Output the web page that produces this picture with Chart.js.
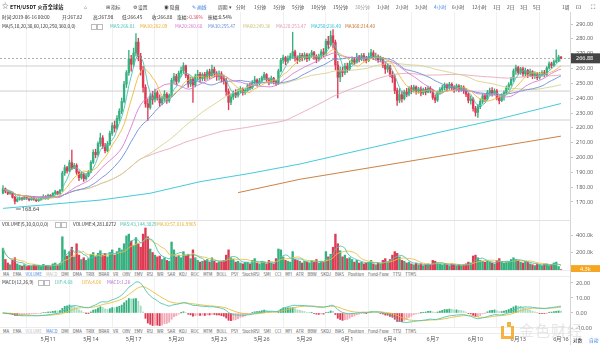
<!DOCTYPE html>
<html lang="zh-CN">
<head>
<meta charset="utf-8">
<title>ETH/USDT 4小时</title>
<script src="https://cdn.jsdelivr.net/npm/chart.js@4.4.1/dist/chart.umd.min.js"></script>
<style>
  body { margin: 0; background: #fff; }
  #page {
    position: relative; width: 600px; height: 345px; overflow: hidden; background: #fff;
    font-family: "Noto Sans CJK SC", "Noto Sans", sans-serif; color: #333;
  }
  canvas { position: absolute; left: 0; }
  .t { position: absolute; white-space: nowrap; font-size: 4.7px; line-height: 5px; }
  .tool { top: 3.5px; font-size: 4.8px; color: #444; }
  .info { top: 14.5px; }
  .ma { top: 23.5px; }
  .blue { color: #3d7fe0; }
  .box { position: absolute; width: 4px; height: 4px; border: 0.6px solid #bbb; }
  .tabs {
    position: absolute; left: 0; width: 570px; height: 7px; background: #fff;
    border-top: 1px solid #ececec; border-bottom: 1px solid #ececec;
    display: flex; align-items: center; gap: 4px; padding-left: 3px; box-sizing: border-box;
    font-size: 4.2px; color: #555; white-space: nowrap;
  }
  .tabs .on { color: #3d7fe0; }
  .tabs .off { color: #bbb; }
  #axisLine { position: absolute; left: 570px; top: 12px; width: 1px; height: 333px; background: #d6d6d6; }
  #sep1 { position: absolute; left: 0; top: 220px; width: 570px; height: 1px; background: #e2e2e2; }
  .wm-logo { position: absolute; left: 501px; top: 326px; width: 7px; height: 10px; border: 3px solid #f5a623; border-top: none; opacity: 0.85; }
  .wm-dot { position: absolute; left: 507px; top: 322px; width: 4px; height: 5px; background: #f5a623; opacity: 0.85; }
  .wm-text { position: absolute; left: 519px; top: 322px; font-size: 15px; line-height: 16px; color: rgba(210,210,210,0.55); letter-spacing: 1px; }
</style>
</head>
<body>
<div id="page">
  <canvas id="priceChart" width="600" height="208" style="top:12px"></canvas>
  <canvas id="volumeChart" width="600" height="51" style="top:221px"></canvas>
  <canvas id="macdChart" width="600" height="67" style="top:278px"></canvas>

  <div id="sep1"></div>
  <div id="axisLine"></div>

  <!-- toolbar -->
  <span class="t tool" style="left:2px;top:2.5px;font-size:6.5px">☆</span>
  <span class="t tool" style="left:10px;color:#222;font-weight:600;font-size:5.2px">ETH/USDT 火币全球站</span>
  <span class="t tool" style="left:84px">⌂</span>
  <span class="t tool" style="left:106px">⊞ 指标</span>
  <span class="t tool" style="left:133px">⚙ 设置</span>
  <span class="t tool" style="left:164px">◉ 隐藏</span>
  <span class="t tool blue" style="left:192px">✎ 画线</span>
  <span class="t tool" style="left:218px">周期 ▾</span>
  <span class="t tool" style="left:236px">分时</span>
  <span class="t tool" style="left:254px">1分钟</span>
  <span class="t tool" style="left:273px">3分钟</span>
  <span class="t tool" style="left:292px">5分钟</span>
  <span class="t tool" style="left:311px">10分钟</span>
  <span class="t tool" style="left:333px">15分钟</span>
  <span class="t tool" style="left:355px;color:#999">30分钟</span>
  <span class="t tool" style="left:377px">1小时</span>
  <span class="t tool" style="left:396px">2小时</span>
  <span class="t tool" style="left:415px">3小时</span>
  <span class="t tool blue" style="left:434px">4小时</span>
  <span class="t tool" style="left:452px">6小时</span>
  <span class="t tool" style="left:472px">12小时</span>
  <span class="t tool" style="left:493px">1日</span>
  <span class="t tool" style="left:507px">2日</span>
  <span class="t tool" style="left:520px">3日</span>
  <span class="t tool" style="left:533px">5日</span>
  <span class="t tool" style="left:562px">1周</span>
  <span class="t tool" style="left:576px;font-size:6px">⊡</span>
  <span class="t tool" style="left:591px;font-size:6px">⛶</span>

  <!-- candle info -->
  <span class="t info" style="left:2px">时间:2019-06-16 00:00</span>
  <span class="t info" style="left:62px">开:267.82</span>
  <span class="t info" style="left:93px">高:267.98</span>
  <span class="t info" style="left:122px">低:266.45</span>
  <span class="t info" style="left:152px">收:266.88</span>
  <span class="t info" style="left:177px">涨幅:<span style="color:#de3f55">-0.36%</span></span>
  <span class="t info" style="left:208px">振幅:0.54%</span>

  <span class="t ma" style="left:2px">MA(5,10,20,30,60,120,250,360,0,0)</span>
  <span class="box" style="left:91px;top:23.5px"></span>
  <span class="box" style="left:97px;top:23.5px"></span>
  <span class="t ma" style="left:110px;color:#4fc3b3">MA5:266.81</span>
  <span class="t ma" style="left:140px;color:#e9b033">MA10:262.09</span>
  <span class="t ma" style="left:175px;color:#d97bd6">MA20:260.60</span>
  <span class="t ma" style="left:208px;color:#6b8fda">MA30:255.47</span>
  <span class="t ma" style="left:243px;color:#c9c57a">MA60:249.36</span>
  <span class="t ma" style="left:276px;color:#e39aae">MA120:253.47</span>
  <span class="t ma" style="left:311px;color:#2fc4d8">MA250:236.40</span>
  <span class="t ma" style="left:345px;color:#c8732c">MA360:214.40</span>

  <!-- volume header -->
  <span class="t" style="left:2px;top:221.5px">VOLUME(5,10,0,0,0,0)</span>
  <span class="box" style="left:55px;top:221.5px"></span>
  <span class="box" style="left:61px;top:221.5px"></span>
  <span class="t" style="left:73px;top:221.5px">VOLUME:4,281.0272</span>
  <span class="t" style="left:120px;top:221.5px;color:#4fc3b3">MA5:43,144.3829</span>
  <span class="t" style="left:157px;top:221.5px;color:#e9b033">MA10:57,016.9965</span>

  <div class="tabs" id="tabsVolume" style="top:270px"></div>

  <!-- macd header -->
  <span class="t" style="left:2px;top:279.5px">MACD(12,26,9)</span>
  <span class="box" style="left:38px;top:279.5px"></span>
  <span class="box" style="left:44px;top:279.5px"></span>
  <span class="t" style="left:55px;top:279.5px;color:#4fc3b3">DIF:4.68</span>
  <span class="t" style="left:82px;top:279.5px;color:#e9b033">DEA:4.06</span>
  <span class="t" style="left:107px;top:279.5px;color:#b26fd2">MACD:1.26</span>

  <div class="tabs" id="tabsMacd" style="top:327px"></div>

  <span class="t" style="left:573px;top:337.5px;color:#222">对数</span>
  <span class="t blue" style="left:589px;top:337.5px">自动</span>

  <div class="wm-logo"></div>
  <div class="wm-dot"></div>
  <div class="wm-text">金色财经</div>
</div>

<script>
// 4h candles, 2019-05-07 20:00 .. 2019-06-16 00:00 (open of each bar = previous close)
const firstOpen = 176.0;

const closes = [
  179.0,
  177.5, 175.8, 176.4, 173.2, 170.5, 171.8,
  172.6, 171.9, 173.1, 172.4, 171.5, 172.8,
  171.8, 170.9, 171.5, 172.6, 173.8, 172.4,
  174.5, 173.6, 175.8, 176.9, 175.6, 177.8,
  189.5, 193.2, 191.0, 196.5, 192.8, 194.6,
  190.0, 186.4, 188.9, 185.7, 187.6, 190.3,
  196.8, 203.5, 201.9, 209.4, 213.2, 207.8,
  204.6, 209.1, 216.3, 221.5, 219.8, 226.4,
  231.2, 237.8, 249.5, 257.2, 266.3, 262.9,
  270.5, 277.8, 268.1, 259.4, 247.3, 236.2,
  233.8, 241.5, 238.9, 243.7, 240.2, 236.8,
  239.6, 242.7, 238.3, 241.8, 252.1, 254.6,
  251.3, 256.9, 258.7, 261.8, 255.4, 249.6,
  252.7, 248.9, 254.8, 256.1, 253.2, 255.9,
  253.7, 257.8, 255.2, 259.4, 256.8, 254.6,
  256.4, 253.1, 251.8, 244.5, 237.2, 240.8,
  243.6, 241.9, 244.8, 246.3, 243.7, 245.2,
  248.4, 247.1, 250.6, 252.3, 249.8, 251.6,
  253.8, 255.9, 252.4, 250.9, 253.5, 251.2,
  249.8, 258.4, 265.6, 267.3, 264.9, 266.8,
  268.4, 271.3, 267.2, 265.8, 268.9, 267.5,
  269.2, 266.6, 268.7, 270.8, 267.9, 266.4,
  268.3, 271.2, 269.6, 278.4, 276.2, 282.1,
  277.6, 262.4, 254.1, 258.9, 257.3, 261.6,
  259.8, 263.5, 265.9, 264.2, 267.8, 266.3,
  268.7, 266.9, 265.4, 268.2, 270.6, 267.4,
  268.1, 265.9, 266.7, 262.3, 259.6, 261.8,
  256.1, 253.8, 245.2, 238.6, 242.3, 239.7,
  244.1, 242.6, 246.9, 245.3, 247.6, 244.8,
  246.2, 243.5, 245.8, 244.1, 246.7, 245.0,
  240.4, 238.7, 243.9, 245.7, 247.1, 248.9,
  246.8, 249.4, 247.2, 245.6, 248.3, 246.1,
  247.5, 245.2, 242.6, 238.5, 239.4, 233.1,
  230.4, 234.2, 237.8, 241.6, 239.4, 243.7,
  245.2, 243.6, 244.8, 240.1, 238.3, 241.5,
  243.8, 246.9, 249.2, 252.7, 258.4, 260.6,
  257.3, 259.8, 256.4, 258.7, 255.6, 257.9,
  254.8, 256.3, 253.9, 255.7, 257.2, 256.0,
  260.4, 263.2, 262.1, 264.6, 265.3, 267.82,
  266.88
];

const highs = [
  181.0,
  179.5, 178.2, 177.6, 176.8, 173.9, 172.9,
  173.5, 173.2, 173.9, 173.6, 172.8, 173.4,
  173.2, 172.3, 172.4, 173.5, 174.9, 174.3,
  175.3, 175.0, 176.4, 177.8, 177.3, 178.6,
  190.8, 194.9, 194.0, 198.2, 205.0, 196.0,
  195.8, 191.0, 190.2, 189.6, 189.3, 191.2,
  197.9, 205.2, 205.6, 210.5, 216.4, 214.8,
  209.5, 210.8, 217.8, 223.4, 224.6, 228.2,
  232.9, 240.1, 251.3, 258.6, 272.2, 268.9,
  273.8, 283.6, 280.4, 270.2, 261.5, 249.1,
  239.5, 243.1, 244.6, 246.2, 245.0, 242.3,
  241.2, 245.1, 243.8, 243.0, 253.4, 256.8,
  256.2, 258.3, 260.9, 263.9, 262.4, 256.0,
  254.3, 254.0, 256.2, 258.8, 257.4, 257.1,
  257.5, 259.2, 259.6, 262.3, 260.9, 258.0,
  258.4, 257.9, 255.6, 253.4, 246.3, 243.0,
  244.9, 245.8, 246.2, 247.8, 247.0, 246.8,
  249.6, 250.2, 251.9, 254.7, 253.1, 253.4,
  254.9, 257.4, 256.6, 253.8, 254.9, 254.1,
  252.2, 259.6, 266.9, 269.0, 268.2, 268.5,
  270.2, 284.5, 272.4, 268.6, 270.5, 270.2,
  270.7, 270.3, 270.1, 272.3, 271.6, 269.3,
  269.7, 272.8, 273.5, 279.9, 281.7, 285.3,
  286.2, 279.2, 264.8, 261.2, 260.9, 263.5,
  263.7, 265.2, 267.9, 267.4, 270.2, 268.9,
  270.1, 270.3, 268.2, 270.5, 272.9, 272.1,
  270.4, 269.3, 268.4, 267.5, 264.0, 263.2,
  262.4, 258.1, 255.6, 246.9, 246.5, 244.8,
  245.5, 246.6, 247.9, 248.6, 248.9, 248.4,
  247.4, 247.6, 246.9, 247.3, 248.1, 247.8,
  245.9, 242.3, 244.8, 247.2, 248.6, 250.3,
  249.6, 250.7, 250.4, 248.5, 249.6, 249.2,
  248.6, 248.3, 246.4, 243.7, 241.6, 240.4,
  234.5, 235.9, 239.5, 243.1, 243.0, 245.2,
  246.8, 247.1, 246.3, 245.9, 241.7, 242.9,
  244.9, 248.3, 250.6, 254.1, 259.7, 262.4,
  261.4, 260.8, 260.9, 260.3, 259.4, 259.6,
  258.6, 257.8, 257.3, 257.4, 258.6, 258.8,
  261.3, 264.5, 264.3, 265.9, 272.6, 268.9,
  267.98
];

const lows = [
  175.5,
  176.2, 174.9, 175.1, 172.6, 168.64, 170.1,
  171.2, 171.0, 171.6, 171.7, 170.8, 171.1,
  171.0, 170.2, 170.4, 171.1, 172.1, 171.9,
  171.8, 172.9, 173.2, 175.0, 174.8, 175.1,
  177.2, 187.9, 189.4, 190.3, 191.8, 192.5,
  188.6, 184.3, 185.4, 183.9, 184.8, 186.9,
  189.8, 195.9, 199.8, 200.9, 207.5, 206.2,
  203.1, 203.8, 208.2, 214.9, 217.2, 218.9,
  224.6, 229.5, 236.8, 247.2, 255.3, 258.2,
  261.2, 268.4, 265.2, 255.6, 244.0, 233.9,
  225.0, 232.6, 235.9, 237.5, 238.7, 234.5,
  235.7, 237.9, 236.4, 237.2, 240.8, 249.9,
  249.2, 250.6, 254.4, 256.7, 253.8, 247.3,
  247.8, 237.1, 247.6, 251.9, 250.8, 251.7,
  251.8, 252.6, 253.1, 254.2, 254.3, 251.9,
  252.1, 250.9, 249.5, 241.8, 232.2, 235.6,
  239.2, 240.3, 240.7, 243.5, 242.1, 242.6,
  244.6, 245.5, 246.3, 249.4, 248.1, 248.7,
  250.7, 252.3, 251.0, 248.9, 250.2, 249.6,
  248.4, 249.1, 257.7, 263.5, 262.6, 263.8,
  265.6, 266.8, 264.9, 263.4, 264.7, 265.1,
  265.8, 264.7, 265.4, 267.5, 266.2, 263.9,
  264.9, 266.9, 267.7, 268.9, 273.4, 275.2,
  273.8, 259.1, 240.2, 251.2, 254.6, 255.9,
  257.4, 258.6, 262.7, 262.5, 263.6, 264.4,
  265.3, 265.0, 263.8, 264.6, 267.2, 266.0,
  265.6, 264.1, 264.6, 260.6, 256.7, 257.5,
  254.4, 250.6, 243.1, 235.2, 236.9, 237.4,
  238.8, 240.9, 241.5, 243.1, 244.0, 242.7,
  243.3, 241.6, 242.3, 242.2, 243.5, 243.6,
  239.2, 236.9, 237.8, 242.8, 244.3, 245.6,
  245.1, 245.9, 245.7, 243.9, 244.8, 244.2,
  244.6, 243.2, 241.0, 236.8, 235.9, 231.3,
  227.9, 227.0, 232.9, 236.4, 237.5, 238.6,
  241.9, 241.3, 242.2, 238.9, 236.2, 237.6,
  238.7, 242.6, 245.8, 248.3, 251.2, 256.1,
  255.8, 256.1, 254.6, 254.9, 253.9, 254.6,
  253.1, 253.4, 252.5, 252.8, 254.9, 254.3,
  255.1, 259.5, 260.3, 261.2, 263.8, 264.6,
  266.45
];

// traded volume per bar, thousands of ETH
const volumes = [
  250,
  120, 80, 60, 110, 140, 70,
  55, 45, 60, 40, 50, 45,
  60, 50, 55, 40, 65, 45,
  50, 40, 70, 80, 55, 75,
  380, 230, 160, 210, 260, 150,
  300, 170, 120, 140, 110, 130,
  180, 200, 150, 190, 220, 170,
  190, 150, 200, 230, 170, 210,
  250, 230, 300, 390, 410, 330,
  280, 370, 300, 260, 410, 480,
  380, 240, 200, 170, 150, 160,
  120, 140, 110, 100, 320, 230,
  150, 170, 140, 210, 160, 180,
  130, 230, 140, 110, 90, 100,
  110, 120, 90, 140, 100, 80,
  90, 100, 110, 170, 230, 140,
  120, 90, 100, 80, 70, 90,
  90, 70, 110, 130, 80, 70,
  100, 90, 70, 110, 80, 70,
  130, 240, 230, 150, 110, 100,
  90, 210, 120, 110, 100, 80,
  100, 90, 80, 110, 90, 120,
  80, 100, 90, 210, 150, 180,
  260, 410, 300, 220, 150, 170,
  130, 140, 120, 90, 110, 80,
  90, 70, 80, 90, 110, 70,
  60, 80, 70, 110, 130, 90,
  120, 170, 210, 190, 150, 110,
  100, 80, 90, 70, 60, 80,
  60, 70, 50, 60, 70, 60,
  110, 100, 80, 70, 60, 70,
  60, 50, 70, 60, 50, 60,
  50, 60, 70, 90, 80, 160,
  170, 140, 110, 100, 90, 100,
  90, 80, 70, 110, 130, 90,
  80, 90, 100, 120, 140, 120,
  110, 90, 80, 100, 90, 70,
  60, 50, 70, 60, 50, 70,
  70, 50, 60, 80, 90, 40,
  4.3
];

// long averages need history before the first bar, so they are kept as read values
const ma250Points = [[0, 165.7], [41, 171.3], [62, 175.9], [83, 183.7], [104, 189.3], [125, 195.6], [167, 211.0], [209, 226.0], [235, 236.4]];
const ma360Points = [[99, 176.3], [125, 185.3], [181, 200.1], [235, 214.4]];

// horizontal lines drawn on the chart
const drawnLevels = [261.7, 244.8, 225.3];

const dateIndex = [19, 37, 55, 73, 91, 109, 127, 145, 163, 181, 199, 217, 235];
const dateLabels = ['5月11', '5月14', '5月17', '5月20', '5月23', '5月26', '5月29', '6月1', '6月4', '6月7', '6月10', '6月13', '6月16'];

const priceTicks = [170, 180, 190, 200, 210, 220, 230, 240, 250, 260, 270, 280, 290];
const volumeTicks = [200, 400];
const macdTicks = [-10, 0, 10, 20];

const indicatorTabs = ['MA', 'EMA', 'VOLUME', 'MACD', 'DMI', 'DMA', 'TRIX', 'BRAR', 'VR', 'OBV', 'EMV', 'RSI', 'WR', 'SAR', 'KDJ', 'ROC', 'MTM', 'BOLL', 'PSY', 'StochRSI', 'SMI', 'CCI', 'MFI', 'ATR', 'BBW', 'SKDJ', 'BIAS', 'Position', 'Fund-Flow', 'TTSI', 'TTMS'];

const UP = '#36b07f';
const DOWN = '#dc3b53';
const UP_LIGHT = '#a9dcc5';
const DOWN_LIGHT = '#f1aab5';

const X_MIN = -1.26;
const X_MAX = 238.8;

Chart.defaults.font.family = '"Noto Sans", "DejaVu Sans", sans-serif';
Chart.defaults.font.size = 5.5;
Chart.defaults.color = '#666';

// ---- derived series ----
const opens = closes.map((c, i) => (i === 0 ? firstOpen : closes[i - 1]));
const candleColors = closes.map((c, i) => (c >= opens[i] ? UP : DOWN));

function movingAvg(values, n) {
  return values.map((_, i) => {
    const win = values.slice(Math.max(0, i - n + 1), i + 1);
    return win.reduce((a, b) => a + b, 0) / win.length;
  });
}

function ema(values, n) {
  const k = 2 / (n + 1);
  const out = [];
  values.forEach((v, i) => out.push(i === 0 ? v : out[i - 1] + k * (v - out[i - 1])));
  return out;
}

const ema12 = ema(closes, 12);
const ema26 = ema(closes, 26);
const dif = ema12.map((v, i) => v - ema26[i]);
const dea = ema(dif, 9);
const macdHist = dif.map((v, i) => 2 * (v - dea[i]));
const macdColors = macdHist.map((v, i) => {
  const prev = i ? macdHist[i - 1] : 0;
  if (v >= 0) return v >= prev ? UP : UP_LIGHT;
  return v <= prev ? DOWN : DOWN_LIGHT;
});

const toXY = (arr) => arr.map((v, i) => ({ x: i, y: v }));
const pairsToXY = (pairs) => pairs.map(([x, y]) => ({ x, y }));

function lineSet(data, color, order) {
  return {
    type: 'line', data, borderColor: color, borderWidth: 0.9,
    pointRadius: 0, tension: 0, order,
  };
}

function xAxis(showLabels) {
  return {
    type: 'linear', min: X_MIN, max: X_MAX, offset: false,
    grid: { color: '#f0f0f0', drawTicks: false },
    border: { display: false },
    ticks: {
      display: showLabels, autoSkip: false, maxRotation: 0, padding: 8,
      color: '#555', font: { size: 5.5 },
      callback: (v) => dateLabels[dateIndex.indexOf(v)] || '',
    },
    afterBuildTicks: (axis) => { axis.ticks = dateIndex.map((v) => ({ value: v })); },
    afterFit: (axis) => {
      axis.height = showLabels ? 17 : 0;
      axis.paddingLeft = 0;
      axis.paddingRight = 0;
    },
  };
}

function yAxis(min, max, ticks, format) {
  return {
    position: 'right', min, max,
    grid: { drawOnChartArea: false, drawTicks: true, tickLength: 3, color: '#c8c8c8' },
    border: { display: false },
    ticks: { padding: 3, color: '#666', callback: format },
    afterBuildTicks: (axis) => { axis.ticks = ticks.map((v) => ({ value: v })); },
    afterFit: (axis) => {
      axis.width = 30;
      axis.paddingTop = 0;
      axis.paddingBottom = 0;
    },
  };
}

const baseOptions = {
  responsive: false,
  animation: false,
  events: [],
  layout: { padding: 0 },
  plugins: { legend: { display: false }, tooltip: { enabled: false } },
};

// ---- price panel ----
const lastClose = closes[closes.length - 1];

const priceTags = {
  id: 'priceTags',
  afterDraw(chart) {
    const { ctx, chartArea, scales } = chart;
    const y = scales.y.getPixelForValue(lastClose);
    ctx.save();
    ctx.fillStyle = '#444';
    ctx.fillRect(chartArea.right + 1, y - 5, 29, 10);
    ctx.fillStyle = '#fff';
    ctx.font = '5.5px "Noto Sans", sans-serif';
    ctx.textBaseline = 'middle';
    ctx.fillText(lastClose.toFixed(2), chartArea.right + 6, y + 0.5);

    const lowVal = Math.min(...lows);
    const lowIdx = lows.indexOf(lowVal);
    const lx = scales.x.getPixelForValue(lowIdx);
    const ly = scales.y.getPixelForValue(lowVal) + 5;
    ctx.strokeStyle = '#444';
    ctx.lineWidth = 0.8;
    ctx.beginPath();
    ctx.moveTo(lx + 1, ly);
    ctx.lineTo(lx + 6, ly);
    ctx.stroke();
    ctx.fillStyle = '#444';
    ctx.fillText(lowVal.toFixed(2), lx + 7, ly + 0.3);
    ctx.restore();
  },
};

const maPeriods = [5, 10, 20, 30, 60, 120];
const maColors = ['#4fc3b3', '#f0b93a', '#d97bd6', '#6b8fda', '#d6d28c', '#e9a7b8'];

const priceDatasets = [
  ...maPeriods.map((n, k) => lineSet(toXY(movingAvg(closes, n)), maColors[k], 1)),
  lineSet(pairsToXY(ma250Points), '#2fc4d8', 1),
  lineSet(pairsToXY(ma360Points), '#c8732c', 1),
  {
    type: 'bar', order: 2, grouped: false, barThickness: 1.7, minBarLength: 0.8,
    data: closes.map((c, i) => ({ x: i, y: [opens[i], c] })),
    backgroundColor: candleColors, borderWidth: 0,
  },
  {
    type: 'bar', order: 3, grouped: false, barThickness: 0.7,
    data: closes.map((c, i) => ({ x: i, y: [lows[i], highs[i]] })),
    backgroundColor: candleColors, borderWidth: 0,
  },
  ...drawnLevels.map((lvl) => lineSet([{ x: X_MIN, y: lvl }, { x: X_MAX, y: lvl }], '#c9c9c9', 5)),
  {
    ...lineSet([{ x: X_MIN, y: lastClose }, { x: X_MAX, y: lastClose }], '#888', 4),
    borderDash: [2, 2], borderWidth: 0.7,
  },
];

new Chart(document.getElementById('priceChart'), {
  type: 'bar',
  data: { datasets: priceDatasets },
  options: {
    ...baseOptions,
    scales: {
      x: xAxis(false),
      y: yAxis(157.86, 298.12, priceTicks, (v) => v.toFixed(2)),
    },
  },
  plugins: [priceTags],
});

// ---- volume panel ----
const volumeTag = {
  id: 'volumeTag',
  afterDraw(chart) {
    const { ctx, chartArea, scales } = chart;
    const last = volumes[volumes.length - 1];
    const y = scales.y.getPixelForValue(last);
    ctx.save();
    ctx.fillStyle = '#f5a623';
    ctx.fillRect(chartArea.right + 1, y - 4.5, 29, 9);
    ctx.fillStyle = '#fff';
    ctx.font = '5.5px "Noto Sans", sans-serif';
    ctx.textBaseline = 'middle';
    ctx.fillText(last.toFixed(1) + 'k', chartArea.right + 10, y);
    ctx.restore();
  },
};

new Chart(document.getElementById('volumeChart'), {
  type: 'bar',
  data: {
    datasets: [
      lineSet(toXY(movingAvg(volumes, 5)), '#4fc3b3', 1),
      lineSet(toXY(movingAvg(volumes, 10)), '#f0c040', 1),
      {
        type: 'bar', order: 2, grouped: false, barThickness: 1.7,
        data: toXY(volumes), backgroundColor: candleColors, borderWidth: 0,
      },
    ],
  },
  options: {
    ...baseOptions,
    scales: {
      x: { ...xAxis(false), afterFit: (axis) => { axis.height = 2; axis.paddingLeft = 0; axis.paddingRight = 0; } },
      y: yAxis(0, 560, volumeTicks, (v) => v.toFixed(1) + 'k'),
    },
  },
  plugins: [volumeTag],
});

// ---- MACD panel ----
new Chart(document.getElementById('macdChart'), {
  type: 'bar',
  data: {
    datasets: [
      lineSet(toXY(dif), '#4fc3b3', 1),
      lineSet(toXY(dea), '#e6be3a', 1),
      {
        type: 'bar', order: 2, grouped: false, barThickness: 1.2,
        data: toXY(macdHist), backgroundColor: macdColors, borderWidth: 0,
      },
    ],
  },
  options: {
    ...baseOptions,
    scales: {
      x: xAxis(true),
      y: yAxis(-10, 23.33, macdTicks, (v) => v.toFixed(2)),
    },
  },
});

// ---- indicator tab rows ----
function fillTabs(el, active, used) {
  indicatorTabs.forEach((name) => {
    const s = document.createElement('span');
    s.textContent = name;
    if (name === active) s.className = 'on';
    else if (name === used) s.className = 'off';
    el.appendChild(s);
  });
}
fillTabs(document.getElementById('tabsVolume'), 'VOLUME', 'MACD');
fillTabs(document.getElementById('tabsMacd'), 'MACD', 'VOLUME');
</script>
</body>
</html>
